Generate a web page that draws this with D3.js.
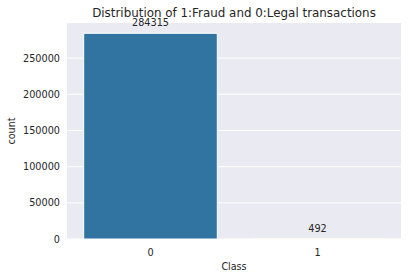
<!DOCTYPE html>
<html>
<head>
<meta charset="utf-8">
<script src="https://cdn.jsdelivr.net/npm/d3@7"></script>
<style>
  body { margin: 0; background: #fff; }
  text { font-family: "DejaVu Sans", sans-serif; fill: #262626; }
</style>
</head>
<body>
<div id="chart"></div>
<script>
// data
let classes = ["0", "1"];
let counts = [284315, 492];
let yTicks = [0, 50000, 100000, 150000, 200000, 250000];

let W = 408, H = 278;
let margin = {top: 23, right: 7, bottom: 39, left: 67};
let width = W - margin.left - margin.right;
let height = H - margin.top - margin.bottom;

let svg = d3.select("#chart").append("svg")
    .attr("width", W)
    .attr("height", H);

let g = svg.append("g")
    .attr("transform", "translate(" + margin.left + "," + margin.top + ")");

let x = d3.scaleBand().domain(classes).range([0, width]).paddingInner(0.2).paddingOuter(0.1);
let y = d3.scaleLinear().domain([0, d3.max(counts) * 1.05]).range([height, 0]);

// background
g.append("rect")
    .attr("width", width)
    .attr("height", height)
    .attr("fill", "#eaeaf2");

// horizontal grid lines only
g.selectAll(".hgrid")
    .data(yTicks)
    .join("line")
    .attr("x1", 0).attr("x2", width)
    .attr("y1", d => y(d)).attr("y2", d => y(d))
    .attr("stroke", "#fff")
    .attr("stroke-width", 1);

// bars
g.selectAll(".bar")
    .data(classes)
    .join("rect")
    .attr("x", d => x(d))
    .attr("width", x.bandwidth())
    .attr("y", (d, i) => y(counts[i]))
    .attr("height", (d, i) => height - y(counts[i]))
    .attr("fill", (d, i) => i == 0 ? "#3274a1" : "#e1812c")
    .attr("stroke", "#fff")
    .attr("stroke-width", 1);

// bar labels
g.selectAll(".lbl")
    .data(classes)
    .join("text")
    .attr("x", d => x(d) + x.bandwidth() / 2)
    .attr("y", (d, i) => y(counts[i]) - 7)
    .attr("text-anchor", "middle")
    .style("font-size", "9.7px")
    .text((d, i) => counts[i]);

// axes
let yAxis = d3.axisLeft(y).tickValues(yTicks).tickSize(0).tickPadding(7).tickFormat(d3.format("d"));
let xAxis = d3.axisBottom(x).tickSize(0).tickPadding(10);

let ya = g.append("g").call(yAxis);
let xa = g.append("g").attr("transform", "translate(0," + height + ")").call(xAxis);
[ya, xa].forEach(a => {
    a.select(".domain").remove();
    a.selectAll("text").style("font-size", "9.7px").attr("fill", "#262626");
});

// axis labels
svg.append("text")
    .attr("x", margin.left + width / 2)
    .attr("y", 269.5)
    .attr("text-anchor", "middle")
    .style("font-size", "9.6px")
    .text("Class");

svg.append("text")
    .attr("transform", "translate(15," + (margin.top + height / 2) + ") rotate(-90)")
    .attr("text-anchor", "middle")
    .style("font-size", "9.6px")
    .text("count");

// title
svg.append("text")
    .attr("x", margin.left + width / 2)
    .attr("y", 17)
    .attr("text-anchor", "middle")
    .style("font-size", "11.9px")
    .text("Distribution of 1:Fraud and 0:Legal transactions");
</script>
</body>
</html>
